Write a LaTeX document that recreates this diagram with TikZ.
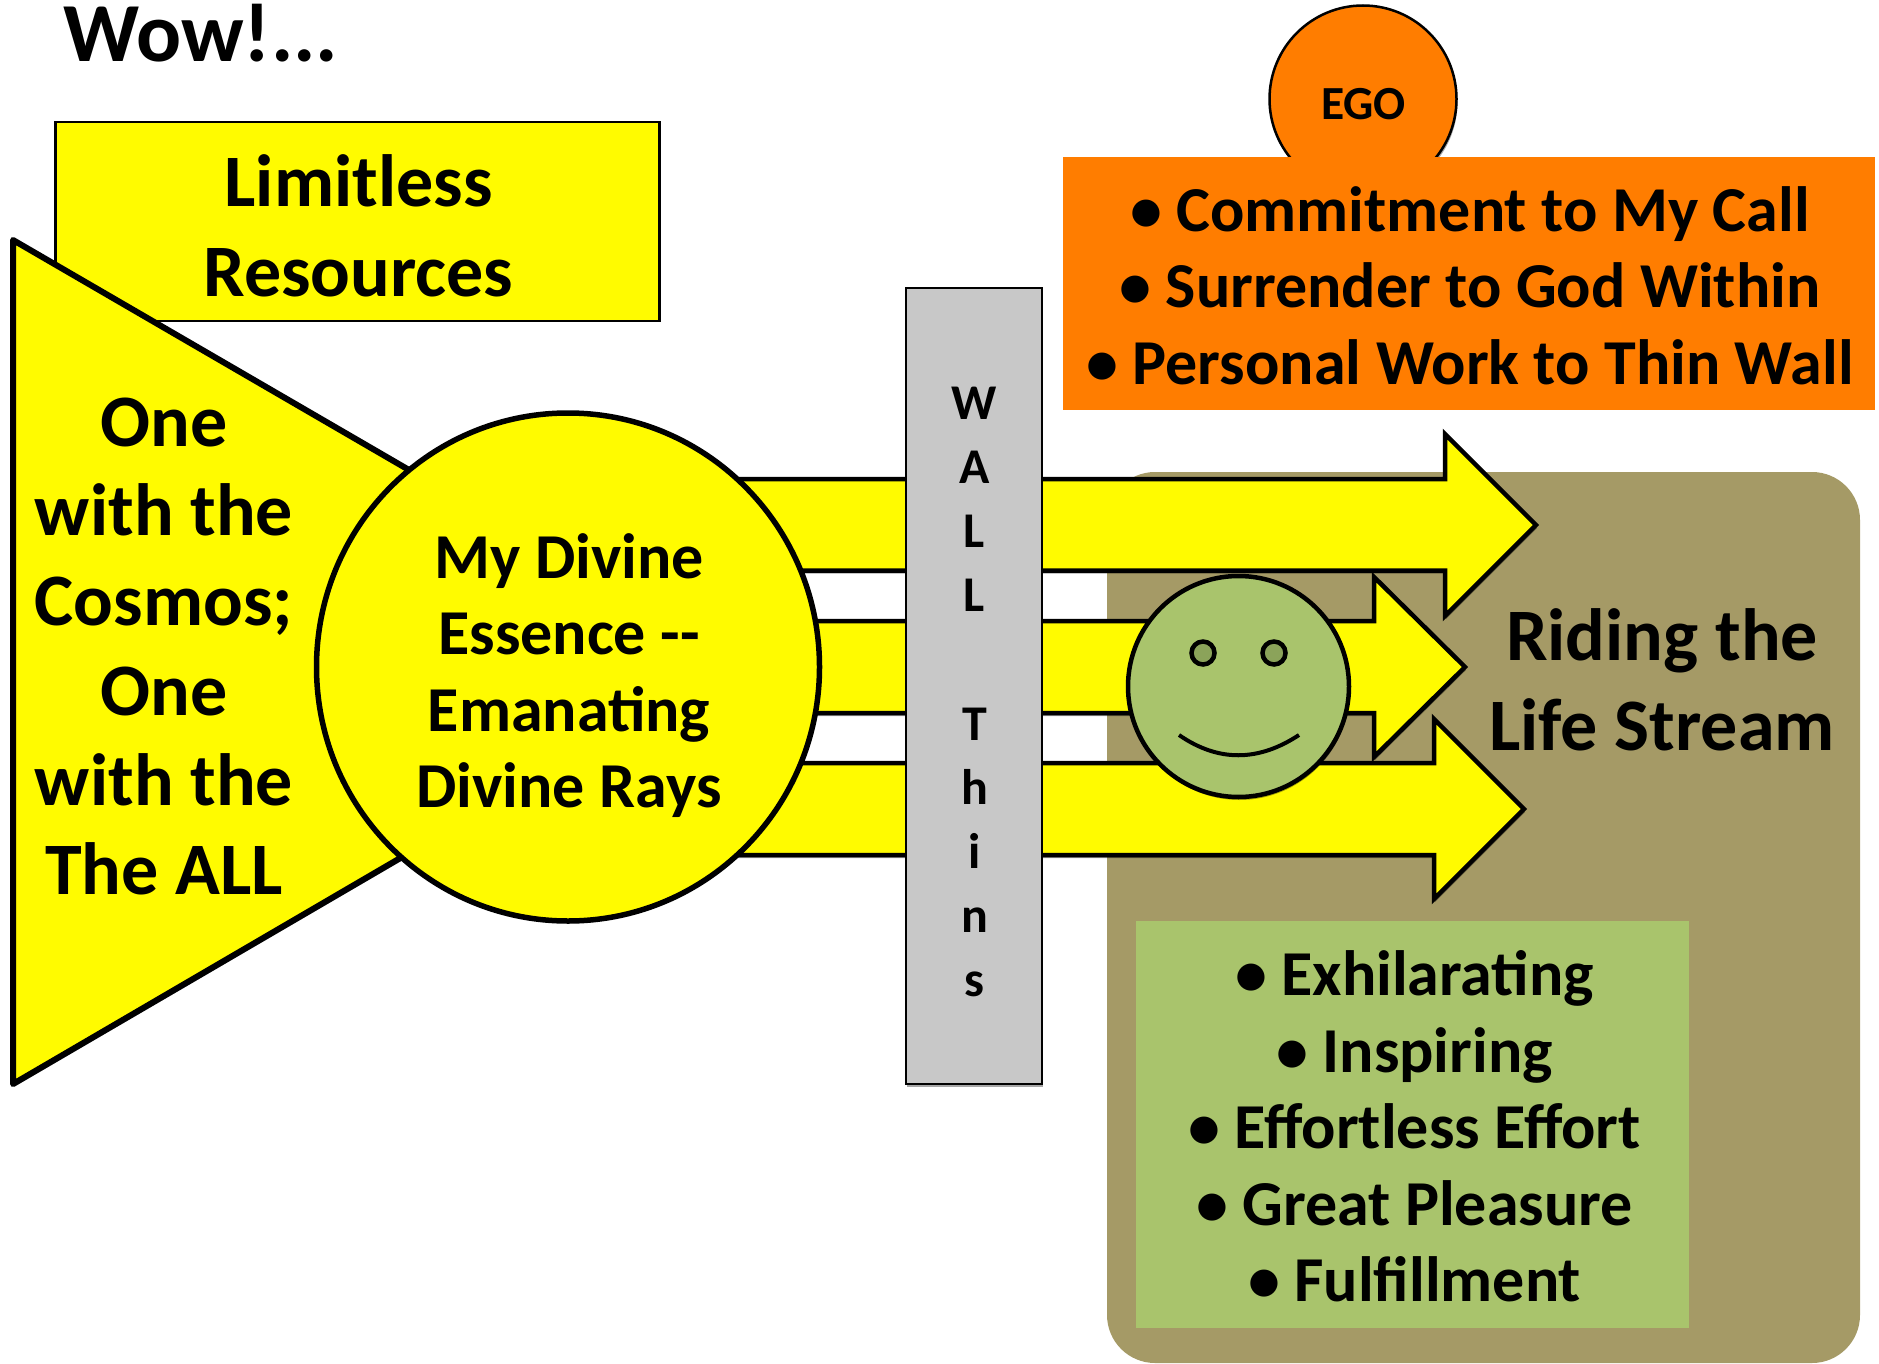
\documentclass[tikz,border=0pt]{standalone}
\usepackage{fontspec}
\setmainfont{Carlito}
\usetikzlibrary{shadows,shapes.geometric}
\definecolor{ylw}{RGB}{255,251,0}
\definecolor{org}{RGB}{255,125,0}
\definecolor{brn}{RGB}{165,154,102}
\definecolor{grn}{RGB}{169,196,108}
\definecolor{dgrn}{RGB}{139,163,90}
\definecolor{wallc}{RGB}{200,200,200}
\newcommand{\fs}[2]{\fontsize{#1}{#2}\bfseries\selectfont}
\tikzset{
  softshadow/.style={drop shadow={shadow xshift=1pt,shadow yshift=-3pt,fill=black,opacity=.35}},
  ray/.style={fill=ylw,draw=black,line width=4.5pt,miter limit=10,line join=miter,softshadow},
  txt/.style={inner sep=0pt,align=center,text=black},
  bigtxt/.style={txt,font=\fs{74}{89.7}},
  midtxt/.style={txt,font=\fs{64}{76.4}}
}
\begin{document}
\begin{tikzpicture}[x=1pt,y=-1pt]
\useasboundingbox (0,0) rectangle (1879,1364);
% brown panel
\fill[brn,rounded corners=48pt] (1107,472) rectangle (1860,1363);
% rays
\draw[ray] (700,479) -- (1445,479) -- (1445,434) -- (1536,525) -- (1445,616) -- (1445,570.5) -- (700,570.5) -- cycle;
\draw[ray] (700,621) -- (1374,621) -- (1374,577) -- (1465,667) -- (1374,757) -- (1374,713) -- (700,713) -- cycle;
\draw[ray] (700,763) -- (1434,763) -- (1434,719) -- (1524,809) -- (1434,899) -- (1434,855) -- (700,855) -- cycle;
% smiley
\node[circle,draw=black,line width=4.5pt,fill=grn,minimum size=221pt,inner sep=0pt,softshadow] (face) at (1238.5,686.5) {};
\node[circle,draw=black,line width=4.5pt,fill=dgrn,minimum size=23pt,inner sep=0pt] (eyeL) at (1203,653) {};
\node[circle,draw=black,line width=4.5pt,fill=dgrn,minimum size=23pt,inner sep=0pt] (eyeR) at (1274,653) {};
\draw[line width=4pt] (1179,735) .. controls (1218,762) and (1258,762) .. (1299,735);
% wall
\node[draw=black,line width=2pt,fill=wallc,minimum width=136pt,minimum height=796pt,inner sep=0pt,softshadow] (wall) at (974,686) {};
\node[txt,font=\fs{50}{64.1}] (walltxt) at (974.5,692) {W\\A\\L\\L\\\mbox{}\\T\\h\\i\\n\\s};
% limitless box
\node[draw=black,line width=2.5pt,fill=ylw,minimum width=604pt,minimum height=199pt,inner sep=0pt] (limit) at (357.5,221.5) {};
\node[bigtxt] (limittxt) at (358.5,226) {Limitless\\Resources};
% triangle
\draw[fill=ylw,line width=6pt,line join=round,softshadow] (13,240) -- (738,661) -- (13,1084) -- cycle;
\node[bigtxt] (onetxt) at (164,646.5) {One\\with the\\Cosmos;\\One\\with the\\The ALL};
% main circle
\node[ellipse,draw=black,line width=5.5pt,fill=ylw,minimum width=503pt,minimum height=508pt,inner sep=0pt] (core) at (568,667) {};
\node[midtxt] (coretxt) at (569,675.5) {My Divine\\Essence -{}-\\Emanating\\Divine Rays};
% ego
\node[circle,draw=black,line width=2.5pt,fill=org,minimum size=187pt,inner sep=0pt,softshadow] (ego) at (1363,99) {};
\node[txt,font=\fs{47.5}{56}] (egotxt) at (1363.5,104.5) {EGO};
% orange box
\node[fill=org,minimum width=812pt,minimum height=253pt,inner sep=0pt] (orange) at (1469,283.5) {};
\node[midtxt] (orangetxt) at (1470,285.5) {• Commitment to My Call\\• Surrender to God Within\\• Personal Work to Thin Wall};
% green box
\node[fill=grn,minimum width=553pt,minimum height=407pt,inner sep=0pt] (green) at (1412.5,1124.5) {};
\node[midtxt] (greentxt) at (1414.5,1126.5) {• Exhilarating\\• Inspiring\\• Effortless Effort\\• Great Pleasure\\• Fulfillment};
% labels
\node[bigtxt] (riding) at (1662,679.5) {Riding the\\Life Stream};
\node[txt,anchor=base west,font=\fs{84}{90}] (wow) at (63,62) {Wow!...};
\end{tikzpicture}
\end{document}
